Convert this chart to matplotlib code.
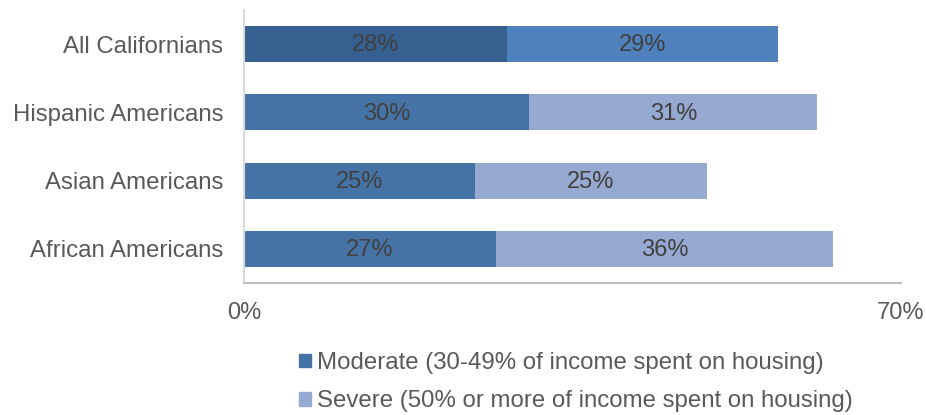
import matplotlib
matplotlib.use("Agg")
import matplotlib.pyplot as plt
from matplotlib.patches import Patch
import numpy as np

plt.rcParams["font.family"] = ["Liberation Sans", "DejaVu Sans"]

groups = ["All Californians", "Hispanic Americans", "Asian Americans", "African Americans"]
moderate = [28.0, 30.4, 24.6, 26.8]
severe = [28.9, 30.7, 24.7, 36.0]
x_ticks = [0, 70]
x_tick_labels = ["0%", "70%"]
legend_labels = [
    "Moderate (30-49% of income spent on housing)",
    "Severe (50% or more of income spent on housing)",
]

mod_colors = ["#36608f", "#4673a6", "#4673a6", "#4673a6"]
sev_colors = ["#4f81bd", "#95a9d1", "#95a9d1", "#95a9d1"]
label_color = "#404040"
tick_color = "#595959"


def main():
    fig = plt.figure(figsize=(9.26, 4.15), dpi=100)
    ax = fig.add_axes([244 / 926, 1 - 283 / 415, 657 / 926, 273 / 415])

    y = np.arange(len(groups))
    h = 0.53
    b1 = ax.barh(y, moderate, height=h, color=mod_colors)
    b2 = ax.barh(y, severe, left=moderate, height=h, color=sev_colors)

    for bars, vals in ((b1, moderate), (b2, severe)):
        for rect, v in zip(bars, vals):
            ax.text(rect.get_x() + rect.get_width() / 2, rect.get_y() + rect.get_height() / 2 + 0.02,
                    f"{v:.0f}%", ha="center", va="center", fontsize=17, color=label_color)

    ax.set_xlim(0, 70)
    ax.set_ylim(len(groups) - 0.5, -0.5)
    ax.set_yticks(y)
    ax.set_yticklabels(groups, fontsize=17.3, color=tick_color)
    ax.set_xticks(x_ticks)
    ax.set_xticklabels(x_tick_labels, fontsize=17, color=tick_color)
    ax.tick_params(axis="y", length=0, pad=15)
    ax.tick_params(axis="x", length=0, pad=14)

    for side in ("top", "right"):
        ax.spines[side].set_visible(False)
    ax.spines["left"].set_color("#d9d9d9")
    ax.spines["bottom"].set_color("#bfbfbf")
    ax.spines["left"].set_linewidth(1.5)
    ax.spines["bottom"].set_linewidth(1.5)

    handles = [Patch(color=mod_colors[1]), Patch(color=sev_colors[1])]
    fig.legend(handles, legend_labels, loc="upper left", bbox_to_anchor=(299 / 926, 1 - 352 / 415),
               frameon=False, fontsize=17.3, handlelength=0.5, handleheight=0.5,
               handletextpad=0.25, labelspacing=0.68, labelcolor=tick_color,
               borderaxespad=0, borderpad=0)

    fig.savefig("out.png")
    plt.close(fig)


if __name__ == "__main__":
    main()
